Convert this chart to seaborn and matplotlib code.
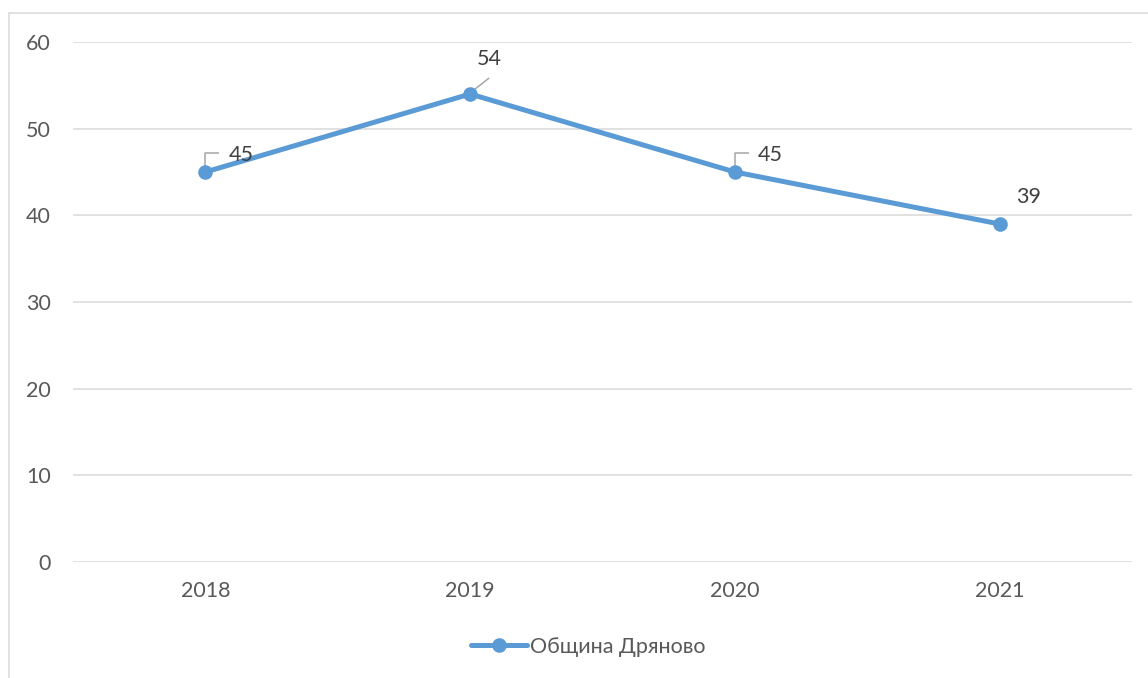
import matplotlib
matplotlib.use("Agg")
import matplotlib.pyplot as plt
import matplotlib.transforms as mtransforms
from matplotlib.lines import Line2D
import seaborn as sns
import pandas as pd

years = ["2018", "2019", "2020", "2021"]
values = [45, 54, 45, 39]
series_name = "Община Дряново"
y_ticks = [0, 10, 20, 30, 40, 50, 60]

sns.set_theme(style="white")
plt.rcParams["font.family"] = ["Lato", "DejaVu Sans"]

W, H = 1148, 678
fig = plt.figure(figsize=(W / 100, H / 100), dpi=100)
ax = fig.add_axes([73 / W, 1 - 562 / H, (1132 - 73) / W, (562 - 42) / H])

df = pd.DataFrame({"year": years, "value": values})
blue = "#5B9BD5"
sns.lineplot(data=df, x="year", y="value", ax=ax, color=blue, linewidth=3.6,
             marker="o", markersize=10.5, markeredgewidth=0, label=series_name,
             sort=False)

ax.set_xlim(-0.5, len(years) - 0.5)
ax.set_ylim(0, 60)
ax.set_yticks(y_ticks)
ax.set_xlabel("")
ax.set_ylabel("")
for s in ax.spines.values():
    s.set_visible(False)
ax.grid(axis="y", color="#D9D9D9", linewidth=1.1)
ax.grid(axis="x", visible=False)
ax.set_axisbelow(True)
fs = 15.5
ax.tick_params(axis="y", length=0, pad=16, labelsize=fs, labelcolor="#595959")
ax.tick_params(axis="x", length=0, pad=14, labelsize=fs, labelcolor="#595959")

# data labels (offsets in pixels -> points)
px = 0.72
label_offsets = [(23, 17), (19, 35), (23, 17), (29, 27)]
leaders = [
    [(0, 0), (0, 19), (14, 19)],
    [(0, 1), (19, 16)],
    [(0, 0), (0, 19), (14, 19)],
    None,
]
for i, (yr, v) in enumerate(zip(years, values)):
    dx, dy = label_offsets[i]
    ha = "center" if i == 1 or i == 3 else "left"
    ax.annotate(str(v), xy=(i, v), xytext=(dx * px, dy * px),
                textcoords="offset points", ha=ha, va="center",
                fontsize=fs, color="#404040")
    if leaders[i] is not None:
        trans = mtransforms.Affine2D().scale(fig.dpi / 72.0) + \
            mtransforms.ScaledTranslation(i, v, ax.transData)
        xs = [p[0] * px for p in leaders[i]]
        ys = [p[1] * px for p in leaders[i]]
        ax.plot(xs, ys, transform=trans, color="#A6A6A6", linewidth=1.1,
                zorder=1, solid_capstyle="butt")

# legend
handles, labels = ax.get_legend_handles_labels()
ax.legend_.remove()
fig.legend(handles, labels, loc="center", bbox_to_anchor=(588 / W, 1 - 647 / H),
           frameon=False, fontsize=fs, handlelength=2.6, handletextpad=0.15,
           labelcolor="#595959")

# chart border (partially cropped)
fig.add_artist(Line2D([8.5 / W, 8.5 / W], [0, 1 - 13 / H], color="#D9D9D9",
                      linewidth=1.1, transform=fig.transFigure))
fig.add_artist(Line2D([8.5 / W, 1], [1 - 13 / H, 1 - 13 / H], color="#D9D9D9",
                      linewidth=1.1, transform=fig.transFigure))

fig.savefig("out.png", dpi=100)
